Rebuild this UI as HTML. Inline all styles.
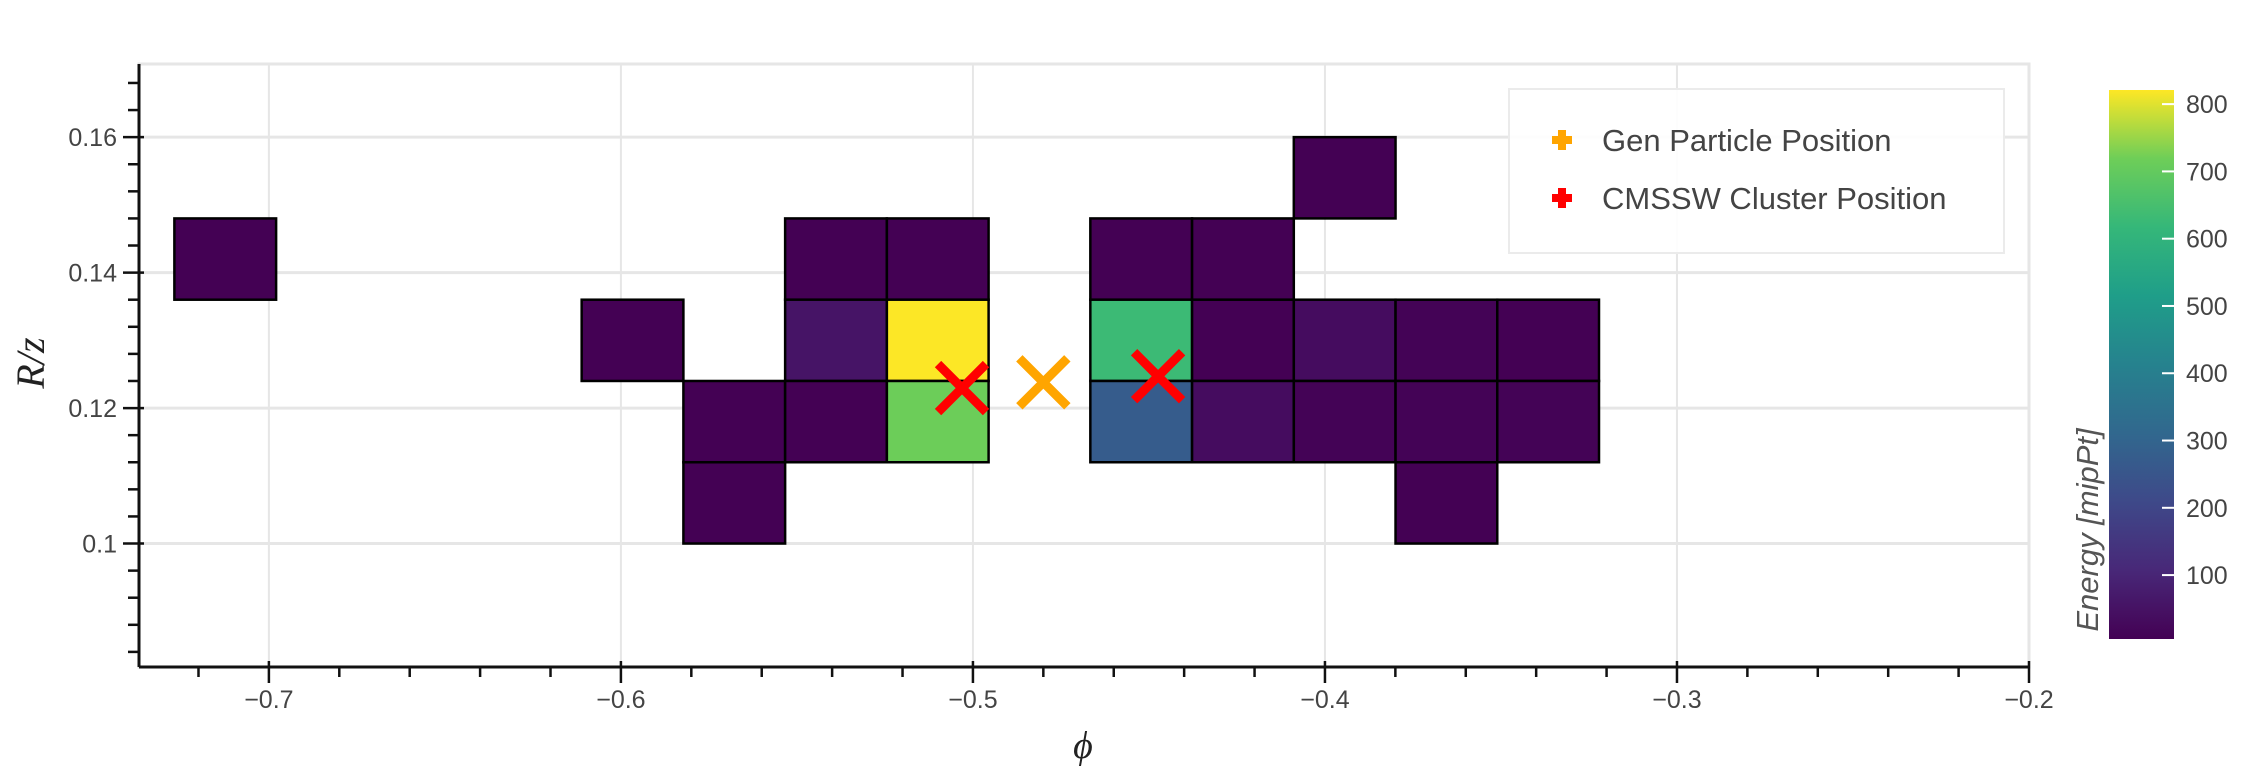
<!DOCTYPE html>
<html><head><meta charset="utf-8"><style>
html,body{margin:0;padding:0;background:#fff;}
svg{display:block;font-family:"Liberation Sans",sans-serif;}
</style></head><body>
<svg id="chart" width="2244" height="777" viewBox="0 0 2244 777" xmlns="http://www.w3.org/2000/svg">
<defs>
<linearGradient id="vgrad" x1="0" y1="1" x2="0" y2="0">
<stop offset="0" stop-color="#440154"/><stop offset="0.125" stop-color="#482878"/>
<stop offset="0.25" stop-color="#3e4989"/><stop offset="0.375" stop-color="#31688e"/>
<stop offset="0.5" stop-color="#26828e"/><stop offset="0.625" stop-color="#1f9e89"/>
<stop offset="0.75" stop-color="#35b779"/><stop offset="0.875" stop-color="#6ece58"/>
<stop offset="1" stop-color="#fde725"/></linearGradient>
</defs>
<g id="grid"></g>
<g id="cells"></g>
<g id="markers"></g>
<g id="axes"></g>
<g>
<rect x="1509" y="89" width="495" height="164" fill="#fff" fill-opacity="0.9" stroke="#ebebeb" stroke-width="2"/>
<g>
<path d="M1558 130h8v6h6v8h-6v6h-8v-6h-6v-8h6z" fill="#ffa500"/>
<text x="1602" y="151" font-size="31" fill="#444">Gen Particle Position</text></g>
<g>
<path d="M1558 188h8v6h6v8h-6v6h-8v-6h-6v-8h6z" fill="#ff0000"/>
<text x="1602" y="209" font-size="31" fill="#444">CMSSW Cluster Position</text></g>
</g>
<g>
<rect x="2109" y="90" width="65" height="549" fill="url(#vgrad)"/>
<g id="cbticks"></g>
<text transform="translate(2098,530) rotate(-90)" text-anchor="middle" font-size="31" font-style="italic" fill="#555">Energy [mipPt]</text>
</g>
<text transform="translate(44,363) rotate(-90)" text-anchor="middle" font-family="Liberation Serif,serif" font-style="italic" font-size="40" fill="#222">R/z</text>
<text x="1083" y="758" text-anchor="middle" font-family="Liberation Serif,serif" font-style="italic" font-size="38" fill="#222">ϕ</text>
</svg>
<script>
const cellPhi = [-0.7124,-0.5967,-0.5678,-0.5678,-0.5389,-0.5389,-0.5389,-0.5100,-0.5100,-0.5100,-0.4522,-0.4522,-0.4522,-0.4233,-0.4233,-0.4233,-0.3944,-0.3944,-0.3944,-0.3655,-0.3655,-0.3655,-0.3366,-0.3366];
const cellRz  = [0.142,0.130,0.118,0.106,0.142,0.130,0.118,0.142,0.130,0.118,0.142,0.130,0.118,0.142,0.130,0.118,0.154,0.130,0.118,0.130,0.118,0.106,0.130,0.118];
const cellE   = [5,5,5,5,5,55,5,5,820,715,5,630,270,5,5,35,5,35,10,10,10,5,5,10];
const cellW = 0.0289, cellH = 0.012;
const genPhi=[-0.480], genRz=[0.1238];
const clusPhi=[-0.5031,-0.4474], clusRz=[0.12295,0.1247];
const xTicks=[-0.7,-0.6,-0.5,-0.4,-0.3,-0.2];
const xTickLabels=["−0.7","−0.6","−0.5","−0.4","−0.3","−0.2"];
const yTicks=[0.10,0.12,0.14,0.16];
const yTickLabels=["0.1","0.12","0.14","0.16"];
const cTicks=[100,200,300,400,500,600,700,800];
const eMin=5, eMax=821;

const X0=139,X1=2029,Y0=667,Y1=64;
const xMin=-0.7369,xMax=-0.2, yMin=0.08177,yMax=0.1708;
const sx=v=>X0+(v-xMin)/(xMax-xMin)*(X1-X0);
const sy=v=>Y0-(v-yMin)/(yMax-yMin)*(Y0-Y1);
const cy=v=>639-(v-eMin)/(eMax-eMin)*(639-90);
const NS="http://www.w3.org/2000/svg";
function mk(tag,attrs,parent){const e=document.createElementNS(NS,tag);for(const k in attrs)e.setAttribute(k,attrs[k]);parent.appendChild(e);return e;}
const vir=[[68,1,84],[72,40,120],[62,73,137],[49,104,142],[38,130,142],[31,158,137],[53,183,121],[110,206,88],[253,231,37]];
function color(v){let t=Math.max(0,Math.min(1,(v-eMin)/(eMax-eMin)))*8;let i=Math.min(7,Math.floor(t)),f=t-i;const a=vir[i],b=vir[i+1];return `rgb(${a.map((c,j)=>Math.round(c+(b[j]-c)*f)).join(',')})`;}

const grid=document.getElementById('grid');
mk('rect',{x:X0,y:Y1,width:X1-X0,height:Y0-Y1,fill:'none',stroke:'#e6e6e6','stroke-width':3},grid);
xTicks.forEach(t=>{const l=mk('line',{x1:sx(t),x2:sx(t),y1:Y1,y2:Y0,stroke:'#e6e6e6','stroke-width':2},grid);

});
yTicks.forEach(t=>{const l=mk('line',{x1:X0,x2:X1,y1:sy(t),y2:sy(t),stroke:'#e6e6e6','stroke-width':3},grid);

});

const cells=document.getElementById('cells');
cellE.forEach((v,i)=>{const x=sx(cellPhi[i]-cellW/2),x2=sx(cellPhi[i]+cellW/2),y=sy(cellRz[i]+cellH/2),y2=sy(cellRz[i]-cellH/2);
const r=mk('rect',{x:x,y:y,width:x2-x,height:y2-y,fill:color(v),stroke:'#000','stroke-width':2.5},cells);

});

const mg=document.getElementById('markers');
function xMark(px,py,col,name){const g=mk('g',{},mg);


const s=24;mk('path',{d:`M${px-s} ${py-s}L${px+s} ${py+s}M${px-s} ${py+s}L${px+s} ${py-s}`,stroke:col,'stroke-width':9,fill:'none'},g);}
genPhi.forEach((p,i)=>xMark(sx(p),sy(genRz[i]),'#ffa500','gen-particle-marker'));
clusPhi.forEach((p,i)=>xMark(sx(p),sy(clusRz[i]),'#ff0000','cmssw-cluster-marker'));

const ax=document.getElementById('axes');
mk('line',{x1:X0,x2:X1,y1:Y0,y2:Y0,stroke:'#111','stroke-width':3},ax);
mk('line',{x1:X0,x2:X0,y1:Y1,y2:Y0,stroke:'#111','stroke-width':3},ax);
for(let k=-36;k<=-10;k++){const v=k*0.02;if(v<xMin-1e-9)continue;const major=Math.abs(v*10-Math.round(v*10))<1e-6;
mk('line',{x1:sx(v),x2:sx(v),y1:major?Y0-6:Y0,y2:major?Y0+16:Y0+10,stroke:'#111','stroke-width':2.5},ax);}
for(let k=21;k<=42;k++){const v=k*0.004;if(v<yMin||v>yMax)continue;const major=Math.abs(v*50-Math.round(v*50))<1e-6;
mk('line',{x1:major?X0-16:X0-11,x2:major?X0+5:X0,y1:sy(v),y2:sy(v),stroke:'#111','stroke-width':2.5},ax);}
xTicks.forEach((t,i)=>{const e=mk('text',{x:sx(t),y:Y0+41,'text-anchor':'middle','font-size':25,fill:'#444'},ax);e.textContent=xTickLabels[i];

});
yTicks.forEach((t,i)=>{const e=mk('text',{x:X0-22,y:sy(t)+9,'text-anchor':'end','font-size':25,fill:'#444'},ax);e.textContent=yTickLabels[i];

});

const cb=document.getElementById('cbticks');
cTicks.forEach(t=>{mk('line',{x1:2162,x2:2174,y1:cy(t),y2:cy(t),stroke:'#fff','stroke-width':2},cb);
const e=mk('text',{x:2186,y:cy(t)+9,'font-size':25,fill:'#444'},cb);e.textContent=t;

});
</script>
</body></html>
